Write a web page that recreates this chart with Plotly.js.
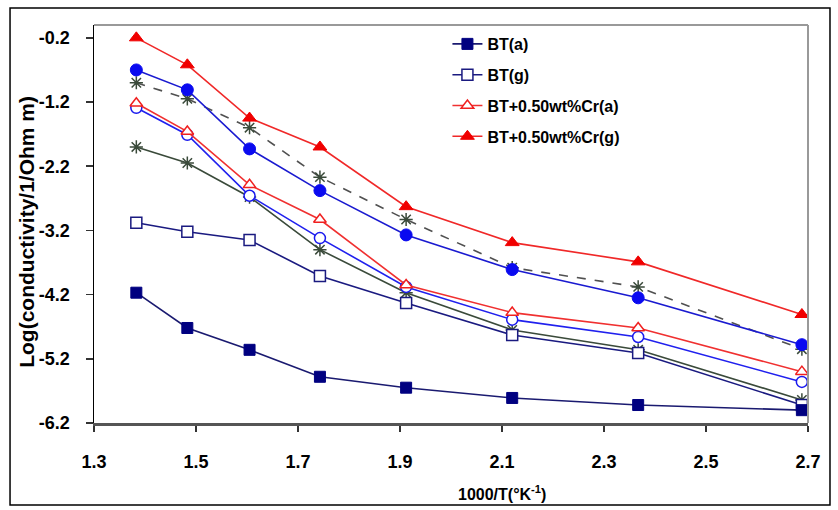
<!DOCTYPE html>
<html>
<head>
<meta charset="utf-8">
<script src="https://cdn.plot.ly/plotly-3.0.1.min.js"></script>
<style>html,body{margin:0;padding:0;background:#fff}#chart{width:838px;height:510px}</style>
</head>
<body>
<div id="chart"></div>
<script>
// inverse temperature 1000/T (K^-1)
const invT = [1.383, 1.483, 1.605, 1.743, 1.912, 2.12, 2.367, 2.688];
// log conductivity series
const btA      = [-4.17, -4.72, -5.06, -5.48, -5.65, -5.81, -5.92, -6.00];
const btG      = [-3.08, -3.22, -3.35, -3.91, -4.33, -4.83, -5.11, -5.92];
const crA      = [-1.22, -1.66, -2.49, -3.03, -4.05, -4.48, -4.72, -5.40];
const crG      = [-0.20, -0.62, -1.45, -1.90, -2.83, -3.39, -3.69, -4.51];
const blueFill = [-0.70, -1.01, -1.93, -2.58, -3.27, -3.81, -4.25, -4.98];
const blueOpen = [-1.29, -1.71, -2.66, -3.32, -4.08, -4.59, -4.86, -5.56];
const starDash = [-0.90, -1.15, -1.60, -2.37, -3.03, -3.78, -4.08, -5.05];
const starSolid= [-1.90, -2.15, -2.68, -3.50, -4.17, -4.75, -5.06, -5.84];
const names = ['BT(a)', 'BT(g)', 'BT+0.50wt%Cr(a)', 'BT+0.50wt%Cr(g)'];
const yTickVals = [-0.2, -1.2, -2.2, -3.2, -4.2, -5.2, -6.2];
const yTickText = ['-0.2', '-1.2', '-2.2', '-3.2', '-4.2', '-5.2', '-6.2'];
const xTickVals = [1.3, 1.5, 1.7, 1.9, 2.1, 2.3, 2.5, 2.7];

function tr(y, name, show, rank, lineColor, dash, sym, mSize, mColor, mLineColor, mLineW) {
  return {
    x: invT, y: y, name: name, type: 'scatter', mode: 'lines+markers',
    showlegend: show, legendrank: rank, legendgroup: 'g' + rank,
    line: {color: lineColor, width: 1.6, dash: dash},
    marker: {symbol: sym, size: mSize, color: mColor, line: {color: mLineColor, width: mLineW}}
  };
}

const data = [
  tr(starSolid, 'x1', false, 900, '#3a4a3a', 'solid', 'asterisk-open', 11, '#3a4a3a', '#3a4a3a', 1.5),
  tr(btG, names[1], true, 2, '#1a1a80', 'solid', 'square', 11, '#ffffff', '#1a1a80', 1.5),
  tr(btA, names[0], true, 1, '#1a1a70', 'solid', 'square', 11, '#000080', '#000080', 1),
  tr(blueOpen, 'o1', false, 901, '#2020ee', 'solid', 'circle', 11, '#ffffff', '#1a1aee', 1.5),
  tr(crA, names[2], true, 3, '#f03030', 'solid', 'triangle-up', 11, '#ffffff', '#f02020', 1.5),
  tr(starDash, 'x2', false, 902, '#505050', 'dash', 'asterisk-open', 11, '#3a4a3a', '#3a4a3a', 1.5),
  tr(blueFill, 'o2', false, 903, '#1a1ad0', 'solid', 'circle', 12, '#0a0af0', '#0a0af0', 1),
  tr(crG, names[3], true, 4, '#f02828', 'solid', 'triangle-up', 12, '#f00000', '#f00000', 1)
];

const FAM = 'Liberation Sans, Arial, sans-serif';

const layout = {
  width: 838, height: 510,
  margin: {l: 94, r: 30, t: 25, b: 87},
  paper_bgcolor: '#ffffff', plot_bgcolor: '#ffffff',
  showlegend: true,
  legend: {
    x: 0.495, y: 0.995, xanchor: 'left', yanchor: 'top',
    bgcolor: 'rgba(255,255,255,0)', borderwidth: 0,
    font: {family: FAM, size: 16, color: '#000', weight: 'bold'},
    tracegroupgap: 7, traceorder: 'grouped'
  },
  xaxis: {
    range: [1.3, 2.7], tickvals: xTickVals, ticktext: xTickVals.map(v => v.toFixed(1)),
    showgrid: false, zeroline: false, showline: true, linecolor: '#555', linewidth: 3,
    ticks: 'outside', ticklen: 6, tickcolor: '#333', tickwidth: 1.5,
    tickfont: {family: FAM, size: 18, color: '#000', weight: 'bold'},
    ticklabelstandoff: 14
  },
  yaxis: {
    range: [-6.2, 0], tickvals: yTickVals, ticktext: yTickText,
    showgrid: false, zeroline: false, showline: true, linecolor: '#000', linewidth: 1.5,
    ticks: 'outside', ticklen: 7, tickcolor: '#333', tickwidth: 1.5,
    tickfont: {family: FAM, size: 18, color: '#000', weight: 'bold'},
    ticklabelstandoff: 12
  },
  shapes: [
    {type: 'rect', xref: 'paper', yref: 'paper', x0: -0.1176, x1: 1.0308, y0: -0.206, y1: 1.0427,
     line: {color: '#000', width: 1.5}, fillcolor: 'rgba(0,0,0,0)', layer: 'below'},
    {type: 'line', xref: 'paper', yref: 'paper', x0: 0, x1: 1, y0: 1, y1: 1, line: {color: '#999', width: 2}},
    {type: 'line', xref: 'paper', yref: 'paper', x0: 1, x1: 1, y0: 0, y1: 1, line: {color: '#999', width: 2}}
  ],
  annotations: [
    {text: 'Log(conductivity/1/Ohm m)', xref: 'paper', yref: 'paper', x: -0.094, y: 0.48,
     textangle: -90, showarrow: false, xanchor: 'center', yanchor: 'middle',
     font: {family: FAM, size: 21, color: '#000', weight: 'bold'}},
    {text: '1000/T(°K<sup>-1</sup>)', xref: 'paper', yref: 'paper', x: 0.572, y: -0.175,
     showarrow: false, xanchor: 'center', yanchor: 'middle',
     font: {family: FAM, size: 16, color: '#000', weight: 'bold'}}
  ]
};

Plotly.newPlot('chart', data, layout, {displayModeBar: false, staticPlot: true});
</script>
</body>
</html>
